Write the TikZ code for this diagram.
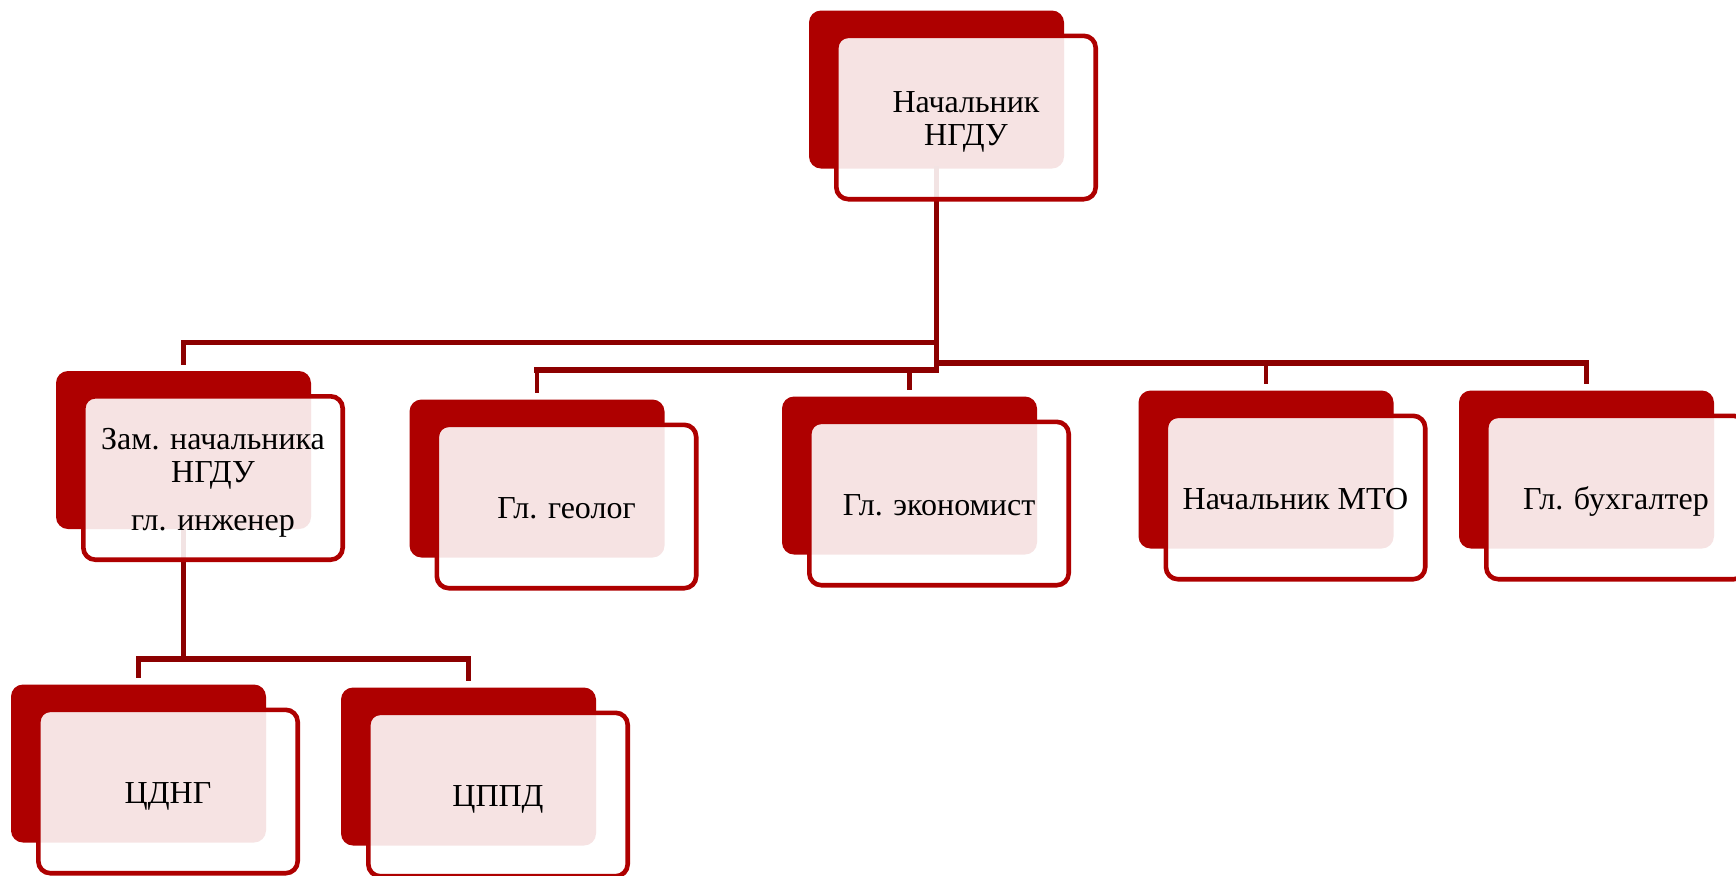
\documentclass[tikz,border=0pt]{standalone}
\usepackage{fontspec}
\setmainfont{Liberation Serif}
\usepackage{xcolor}
\usetikzlibrary{positioning,calc}
\definecolor{boxred}{HTML}{AE0000}
\definecolor{linered}{HTML}{8C0000}

\begin{document}
\begin{tikzpicture}[x=0.5pt,y=-0.5pt,
  back/.style={rectangle,rounded corners=6pt,fill=boxred,minimum width=127.5pt,minimum height=79pt,inner sep=0pt},
  front/.style={rectangle,rounded corners=6pt,draw=boxred,line width=2.3pt,fill=white,fill opacity=0.89,text opacity=1,
    minimum width=129.7pt,minimum height=81.7pt,align=center,font=\fontsize{16}{16.6}\selectfont,xshift=14.75pt,yshift=-14pt},
  single/.style={text height=12pt,text depth=0pt},
  trunk/.style={draw=linered,line width=2.8pt,line cap=rect},
  tick/.style={draw=linered,line width=2.3pt,shorten >=3pt}]
\useasboundingbox (0,0) rectangle (1736,875);

% back plates
\node[back] (top-b) at (936.5,89.5) {};
\node[back] (zam-b) at (183.5,450) {};
\node[back] (geo-b) at (537,478.5) {};
\node[back] (eco-b) at (909.5,475.5) {};
\node[back] (mto-b) at (1266,469.5) {};
\node[back] (buh-b) at (1586.5,469.5) {};
\node[back] (cdng-b) at (138.5,763.5) {};
\node[back] (cppd-b) at (468.5,766.5) {};

% connectors
\coordinate (j1) at (936.5,342.5);
\coordinate (j2) at (936.5,370);
\coordinate (j3) at (936.5,363);
\coordinate (j4) at (183.5,659);
\draw[trunk] (top-b.south) -- (j2);
\draw[trunk] (j1) -- (j1 -| zam-b.north);
\draw[tick] (j1 -| zam-b.north) -- (zam-b.north);
\draw[trunk] (j2) -- (j2 -| geo-b.north);
\draw[tick] (j2 -| geo-b.north) -- (geo-b.north);
\draw[tick] (j2 -| eco-b.north) -- (eco-b.north);
\draw[trunk] (j3) -- (j3 -| buh-b.north);
\draw[tick] (j3 -| mto-b.north) -- (mto-b.north);
\draw[tick] (j3 -| buh-b.north) -- (buh-b.north);
\draw[trunk] (zam-b.south) -- (j4);
\draw[trunk] (j4 -| cdng-b.north) -- (j4 -| cppd-b.north);
\draw[tick] (j4 -| cdng-b.north) -- (cdng-b.north);
\draw[tick] (j4 -| cppd-b.north) -- (cppd-b.north);

% front cards
\node[front] (top) at (top-b) {\rule{0pt}{15pt}Начальник\\НГДУ};
\node[front] (zam) at (zam-b) {\rule{0pt}{15.3pt}Зам. начальника\\НГДУ\\[7pt]гл. инженер};
\node[front,single] (geo) at (geo-b) {Гл. геолог};
\node[front,single] (eco) at (eco-b) {Гл. экономист};
\node[front,single] (mto) at (mto-b) {Начальник МТО};
\node[front,single] (buh) at (buh-b) {Гл. бухгалтер};
\node[front,single] (cdng) at (cdng-b) {ЦДНГ};
\node[front,single] (cppd) at (cppd-b) {ЦППД};
\end{tikzpicture}
\end{document}
